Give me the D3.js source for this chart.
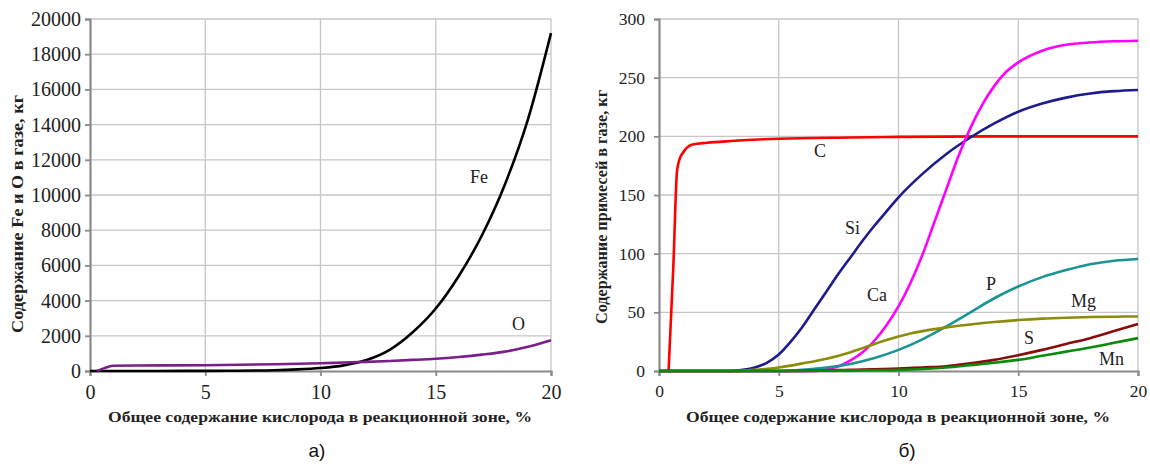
<!DOCTYPE html>
<html><head><meta charset="utf-8">
<script src="https://cdn.jsdelivr.net/npm/d3@7"></script>
<style>body{margin:0;background:#fff}svg{display:block}</style>
</head><body>
<svg id="c" width="1150" height="468"></svg>
<script>
// ---- data ----
const xTicks = [0, 5, 10, 15, 20];
const yTicksA = [0, 2000, 4000, 6000, 8000, 10000, 12000, 14000, 16000, 18000, 20000];
const yTicksB = [0, 50, 100, 150, 200, 250, 300];

const feX = [0, 2, 4, 6, 8, 9, 10, 11, 12, 13, 14, 15, 16, 17, 18, 19, 20];
const feY = [0, 0, 5, 15, 45, 90, 170, 320, 620, 1200, 2200, 3550, 5400, 7700, 10600, 14300, 19200];
const oX = [0.3, 0.6, 1.0, 2, 5, 8, 10, 11, 12, 13, 14, 15, 16, 17, 18, 19, 20];
const oY = [0, 150, 300, 310, 330, 380, 440, 480, 520, 570, 630, 700, 800, 930, 1100, 1380, 1750];

const cX = [0.4, 0.6, 0.75, 0.85, 1.0, 1.4, 2, 3, 5, 8, 10, 15, 20];
const cY = [0, 90, 170, 180, 186, 193, 194.5, 196, 198, 199, 199.5, 200, 200];
const siX = [0, 3, 3.5, 4, 4.5, 5, 5.5, 6, 6.5, 7, 7.5, 8, 8.5, 9, 9.5, 10, 11, 12, 13, 14, 15, 16, 17, 18, 19, 20];
const siY = [0, 0, 1, 3, 7, 14, 25, 38, 53, 68, 83, 97, 111, 124, 136, 148, 168, 185, 199, 211, 221, 228, 233, 236.5, 238.5, 239.5];
const caX = [0, 6.5, 7, 7.5, 8, 8.5, 9, 9.5, 10, 10.5, 11, 11.5, 12, 12.5, 13, 13.5, 14, 14.5, 15, 16, 17, 18, 19, 20];
const caY = [0, 0, 1.5, 4, 9, 16, 26, 39, 55, 75, 99, 127, 155, 183, 207, 227, 243, 255, 263, 273, 278, 280, 281, 281.5];
const pX = [0, 5, 6, 7, 8, 9, 10, 11, 12, 13, 14, 15, 16, 17, 18, 19, 20];
const pY = [0, 0, 1, 3, 6, 11, 18, 27, 38, 50, 62, 72, 80, 86, 91, 94, 95.5];
const mgX = [0, 3, 4, 5, 6, 7, 7.5, 8, 8.5, 9, 9.5, 10, 10.5, 11, 11.5, 12, 13, 14, 15, 16, 17, 18, 19, 20];
const mgY = [0, 0, 1, 3, 6.5, 10.5, 13, 16, 19.5, 23, 26.5, 29.5, 32, 34, 35.7, 37.2, 39.7, 41.8, 43.4, 44.6, 45.4, 46, 46.3, 46.5];
const sX = [0, 5, 8, 10, 11, 12, 13, 14, 15, 16, 17, 18, 19, 20];
const sY = [0, 0, 1, 2, 3, 4, 6.5, 9.5, 13.5, 18, 23, 28, 34, 40];
const mnX = [0, 5, 8, 10, 12, 13, 14, 15, 16, 17, 18, 19, 20];
const mnY = [0, 0, 0.5, 1, 3, 5, 7, 9.5, 13, 16.5, 20, 24, 28];

const xTitle = "Общее содержание кислорода в реакционной зоне, %";

// ---- layout ----
const svg = d3.select("#c");
const serif = "'Liberation Serif','Times New Roman',serif";

function panel(cfg) {
  const x = d3.scaleLinear().domain([0, 20]).range([cfg.x0, cfg.x1]);
  const y = d3.scaleLinear().domain([0, cfg.ymax]).range([371, 19]);
  const g = svg.append("g");
  g.selectAll(".gx").data(xTicks.slice(1)).enter().append("line")
    .attr("x1", d => x(d)).attr("x2", d => x(d)).attr("y1", y(0)).attr("y2", y(cfg.ymax))
    .attr("stroke", "#c6c6c6").attr("stroke-width", 1.3);
  g.selectAll(".gy").data(cfg.yTicks.slice(1)).enter().append("line")
    .attr("x1", x(0)).attr("x2", x(20)).attr("y1", d => y(d)).attr("y2", d => y(d))
    .attr("stroke", "#c6c6c6").attr("stroke-width", 1.3);
  const ax = g.append("g").attr("transform", `translate(0,${y(0)})`)
    .call(d3.axisBottom(x).tickValues(xTicks).tickSize(5).tickPadding(6));
  const ay = g.append("g").attr("transform", `translate(${x(0)},0)`)
    .call(d3.axisLeft(y).tickValues(cfg.yTicks).tickSize(5).tickPadding(cfg.tp).tickFormat(d3.format("d")));
  [ax, ay].forEach(a => {
    a.attr("font-family", serif).attr("font-size", cfg.fs);
    a.select(".domain").attr("stroke", "#8a8a8a").attr("stroke-width", 2.2);
    a.selectAll(".tick line").attr("stroke", "#8a8a8a").attr("stroke-width", 1.8);
    a.selectAll("text").style("font-family", serif).style("font-size", cfg.fs + "px").attr("fill", "#222");
  });
  ax.selectAll("text").attr("dy", "0.85em");
  const line = d3.line().x(d => x(d[0])).y(d => y(d[1])).curve(d3.curveMonotoneX);
  cfg.series.forEach(s => {
    const pts = s.xs.map((v, i) => [v, s.ys[i]]);
    g.append("path").attr("d", line(pts)).attr("fill", "none")
      .attr("stroke", s.color).attr("stroke-width", 2.6).attr("stroke-linejoin", "round");
  });
  cfg.labels.forEach(l => {
    g.append("text").attr("x", l[1]).attr("y", l[2]).text(l[0])
      .style("font-family", serif).attr("font-size", 18).attr("fill", "#222");
  });
  g.append("text").attr("x", cfg.xtc).attr("y", 422).attr("text-anchor", "middle")
    .style("font-family", serif).attr("font-weight", "bold").attr("font-size", 15.5)
    .attr("textLength", cfg.xtl).attr("lengthAdjust", "spacingAndGlyphs")
    .attr("fill", "#222").text(xTitle);
  g.append("text").attr("transform", `translate(${cfg.ytx},${cfg.ytc}) rotate(-90)`)
    .attr("text-anchor", "middle").style("font-family", serif).attr("font-weight", "bold")
    .attr("font-size", 16).attr("textLength", cfg.ytl).attr("lengthAdjust", "spacingAndGlyphs")
    .attr("fill", "#222").text(cfg.ytitle);
  g.append("text").attr("x", cfg.lx).attr("y", 457).attr("text-anchor", "middle")
    .style("font-family", "'Liberation Sans',Arial,sans-serif").attr("font-size", 19)
    .attr("fill", "#111").text(cfg.letter);
}

panel({
  x0: 90, x1: 551, ymax: 20000, yTicks: yTicksA, fs: 20, tp: 4,
  series: [
    {xs: feX, ys: feY, color: "#000000"},
    {xs: oX, ys: oY, color: "#7a1f8a"}
  ],
  labels: [["Fe", 470, 183], ["O", 512, 330]],
  xtc: 320, xtl: 424, ytx: 23, ytc: 214, ytl: 238,
  ytitle: "Содержание Fe и O в газе, кг", lx: 317, letter: "а)"
});

panel({
  x0: 659, x1: 1138, ymax: 300, yTicks: yTicksB, fs: 17.5, tp: 9,
  series: [
    {xs: cX, ys: cY, color: "#ff0000"},
    {xs: siX, ys: siY, color: "#1c1c8e"},
    {xs: caX, ys: caY, color: "#ff00ff"},
    {xs: pX, ys: pY, color: "#1a9494"},
    {xs: mgX, ys: mgY, color: "#8c8c0a"},
    {xs: sX, ys: sY, color: "#8b0a0a"},
    {xs: mnX, ys: mnY, color: "#0a8a0a"}
  ],
  labels: [["C", 814, 157], ["Si", 845, 234], ["Ca", 867, 301], ["P", 986, 290],
           ["Mg", 1071, 307], ["S", 1024, 344], ["Mn", 1099, 365]],
  xtc: 898, xtl: 424, ytx: 607, ytc: 207, ytl: 234,
  ytitle: "Содержание примесей в газе, кг", lx: 907, letter: "б)"
});
</script>
</body></html>
